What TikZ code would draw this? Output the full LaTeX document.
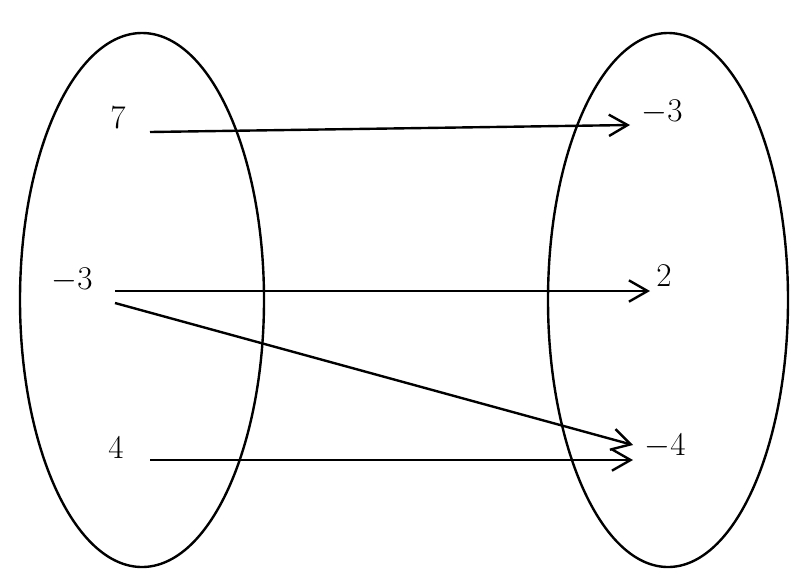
\documentclass[tikz,border=0pt]{standalone}
\usetikzlibrary{arrows.meta}
\begin{document}
\begin{tikzpicture}[x=0.75pt,y=-0.75pt,
  lbl/.style={font=\fontsize{27}{32}\selectfont, inner sep=0pt},
  conn/.style={line width=1.8pt,-{Straight Barb[length=14pt,width=16pt,line width=1.8pt]}},
  set/.style={line width=1.8pt}]
\useasboundingbox (0,0) rectangle (812,586);
\draw[set] (142,300) ellipse [x radius=122, y radius=267];
\draw[set] (668,300) ellipse [x radius=120, y radius=267];
\node[lbl] (a) at (118,118) {$7$};
\node[lbl] (b) at (72,280) {$-3$};
\node[lbl] (c) at (116,448) {$4$};
\node[lbl] (p) at (662,112) {$-3$};
\node[lbl] (q) at (664,276) {$2$};
\node[lbl] (r) at (665,446) {$-4$};
\coordinate (a1) at (150,132); \coordinate (p1) at (630,125);
\coordinate (b1) at (115,291); \coordinate (q1) at (650,291);
\coordinate (b2) at (115,303); \coordinate (r1) at (633,445);
\coordinate (c1) at (150,460); \coordinate (r2) at (633,460);
\draw[conn] (a1) -- (p1);
\draw[conn] (b1) -- (q1);
\draw[conn] (b2) -- (r1);
\draw[conn] (c1) -- (r2);
\end{tikzpicture}
\end{document}
